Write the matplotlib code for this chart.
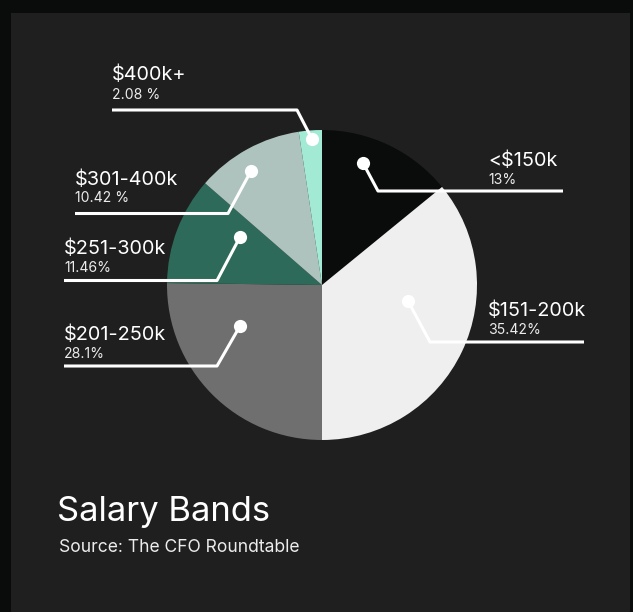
import matplotlib.pyplot as plt
from matplotlib.patches import Rectangle

# data
bands = ["<$150k", "$151-200k", "$201-250k", "$251-300k", "$301-400k", "$400k+"]
shares = [14.1, 35.9, 25.2, 11.2, 11.2, 2.4]          # slice sizes as drawn
pct_labels = ["13%", "35.42%", "28.1%", "11.46%", "10.42 %", "2.08 %"]
colors = ["#0a0c0b", "#efefef", "#6e6f6e", "#2e6a59", "#aec3bd", "#a3ead5"]

W, H = 633, 612
BG_OUT = "#0a0c0b"
BG_PANEL = "#1e1f1e"
FONT = ["Inter", "DejaVu Sans"]

def Y(y):
    # pixel row -> data y
    return H - y

fig = plt.figure(figsize=(W / 100, H / 100), dpi=100, facecolor=BG_OUT)
ax = fig.add_axes([0, 0, 1, 1])
ax.set_xlim(0, W)
ax.set_ylim(0, H)
ax.set_aspect("equal")
ax.axis("off")

ax.add_patch(Rectangle((11, 0), 619, Y(13), facecolor=BG_PANEL, edgecolor="none", zorder=0))

ax.pie(shares, colors=colors, startangle=90, counterclock=False,
       center=(322, Y(285)), radius=155,
       wedgeprops=dict(linewidth=0), frame=True)
ax.set_xlim(0, W)
ax.set_ylim(0, H)
ax.axis("off")

# leader lines: dot, kink, end  /  text x, label baseline, pct baseline
leaders = {
    "<$150k":    ((363, 163), (378, 191), (563, 191), 488, 166, 184),
    "$151-200k": ((408, 301), (430, 342), (584, 342), 488, 315.5, 334),
    "$201-250k": ((240, 326), (217, 366), (64, 366), 64, 339.5, 357.5),
    "$251-300k": ((240, 237), (217, 280.5), (64, 280.5), 64, 254.5, 272.5),
    "$301-400k": ((251, 171), (228, 213.5), (75, 213.5), 75, 185, 202.5),
    "$400k+":    ((312, 139), (297, 110), (112, 110), 112, 80.5, 99),
}

for band, pct in zip(bands, pct_labels):
    dot, kink, end, tx, ly, py = leaders[band]
    ax.plot([dot[0], kink[0], end[0]], [Y(dot[1]), Y(kink[1]), Y(end[1])],
            color="white", lw=2.2, solid_capstyle="butt", zorder=5)
    ax.plot(dot[0], Y(dot[1]), "o", color="white", ms=9.5, mec="none", zorder=6)
    ax.text(tx, Y(ly), band, color="white", fontsize=14.3, family=FONT,
            ha="left", va="baseline", zorder=6)
    ax.text(tx, Y(py), pct, color="#ececec", fontsize=10.1, family=FONT,
            ha="left", va="baseline", zorder=6)

ax.text(57, Y(520.5), "Salary Bands", color="white", fontsize=24.9, family=FONT,
        ha="left", va="baseline")
ax.text(59, Y(552.5), "Source: The CFO Roundtable", color="#ececec", fontsize=12.6,
        family=FONT, ha="left", va="baseline")

plt.savefig("out.png", dpi=100, facecolor=BG_OUT)
